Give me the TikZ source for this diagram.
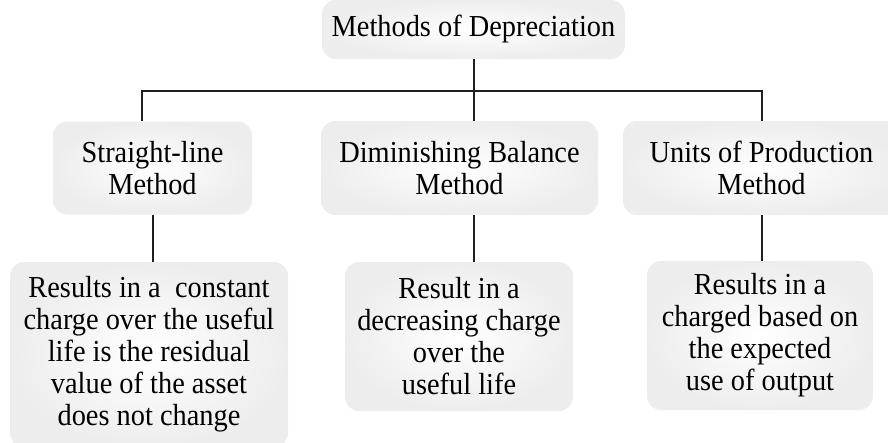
\documentclass[tikz,border=0pt]{standalone}
\usepackage{fontspec}
\setmainfont{Liberation Serif}[FakeStretch=0.93]

\begin{document}
\begin{tikzpicture}[x=1pt, y=-1pt, font=\fontsize{30.5}{32}\selectfont,
    box/.style={shading=radial, inner color=white, outer color=black!7,
      rounded corners=14pt, align=center, inner sep=0pt},
    link/.style={line width=2pt, draw=black!88}]

      \useasboundingbox (0,0) rectangle (888,442);

      \node[box, minimum width=303pt, minimum height=59pt] (methods) at (473.5, 29.5) {Methods of Depreciation};

      \node[box, minimum width=199pt, minimum height=93pt] (straight) at (152.5, 168) {Straight-line\\Method};
      \node[box, minimum width=277pt, minimum height=94pt] (diminishing) at (459.5, 168) {Diminishing Balance\\Method};
      \node[box, minimum width=277pt, minimum height=94pt] (units) at (761.5, 168) {Units of Production\\Method};

      \node[box, minimum width=278pt, minimum height=185pt] (straightres) at (149, 354.5)
      {Results in a~ constant\\charge over the useful\\life is the residual\\value of the asset\\does not change};
      \node[box, minimum width=228pt, minimum height=149pt] (diminishingres) at (459, 336.5)
      {Result in a\\decreasing charge\\over the\\useful life};
      \node[box, minimum width=226pt, minimum height=149pt] (unitsres) at (760, 335.5)
      {Results in a\\charged based on\\the expected\\use of output};

      \draw[link] (methods.south) -- ++(0,32) coordinate (bus);
      \draw[link] ([xshift=-10.5pt]straight.north) |- (bus) -| (units.north);
      \draw[link] (bus) -- (bus |- diminishing.north);

      \draw[link] (straight.south) -- (straight.south |- straightres.north);
      \draw[link] (diminishing.south -| bus) -- (bus |- diminishingres.north);
      \draw[link] (units.south) -- (units.south |- unitsres.north);
    \end{tikzpicture}
\end{document}
